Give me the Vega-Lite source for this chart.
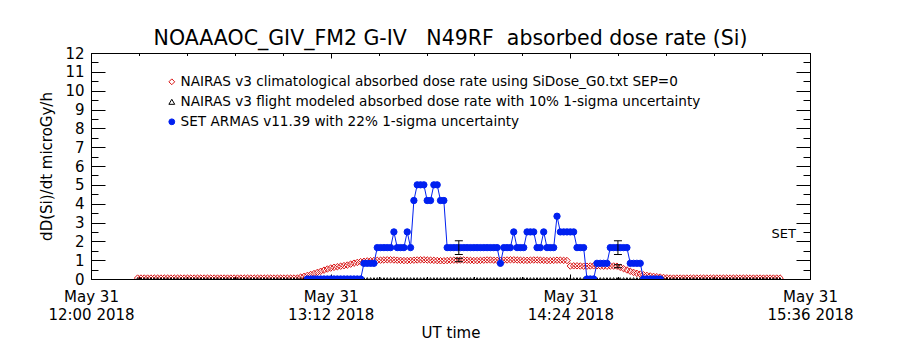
{
"$schema": "https://vega.github.io/schema/vega-lite/v6.json",
"width": 719, "height": 226,
"autosize": {"type": "none"},
"padding": {"left": 91, "top": 53, "right": 90, "bottom": 71},
"title": {"text": "NOAAAOC_GIV_FM2 G-IV \u00a0 N49RF \u00a0absorbed dose rate (Si)", "fontSize": 20.5, "font": "DejaVu Sans", "fontWeight": "normal", "anchor": "middle", "offset": -3, "color": "black"},
"datasets": {
"flight": [
{"time":"2018-05-31T12:14:00Z","clim":0.05,"flight":0},{"time":"2018-05-31T12:15:00Z","clim":0.05,"flight":0},{"time":"2018-05-31T12:16:00Z","clim":0.05,"flight":0},{"time":"2018-05-31T12:17:00Z","clim":0.05,"flight":0},{"time":"2018-05-31T12:18:00Z","clim":0.05,"flight":0},{"time":"2018-05-31T12:19:00Z","clim":0.05,"flight":0},
{"time":"2018-05-31T12:20:00Z","clim":0.05,"flight":0},{"time":"2018-05-31T12:21:00Z","clim":0.05,"flight":0},{"time":"2018-05-31T12:22:00Z","clim":0.05,"flight":0},{"time":"2018-05-31T12:23:00Z","clim":0.05,"flight":0},{"time":"2018-05-31T12:24:00Z","clim":0.05,"flight":0},{"time":"2018-05-31T12:25:00Z","clim":0.05,"flight":0},{"time":"2018-05-31T12:26:00Z","clim":0.05,"flight":0},{"time":"2018-05-31T12:27:00Z","clim":0.05,"flight":0},{"time":"2018-05-31T12:28:00Z","clim":0.05,"flight":0},{"time":"2018-05-31T12:29:00Z","clim":0.05,"flight":0},
{"time":"2018-05-31T12:30:00Z","clim":0.05,"flight":0},{"time":"2018-05-31T12:31:00Z","clim":0.05,"flight":0},{"time":"2018-05-31T12:32:00Z","clim":0.05,"flight":0},{"time":"2018-05-31T12:33:00Z","clim":0.05,"flight":0},{"time":"2018-05-31T12:34:00Z","clim":0.05,"flight":0},{"time":"2018-05-31T12:35:00Z","clim":0.05,"flight":0},{"time":"2018-05-31T12:36:00Z","clim":0.05,"flight":0},{"time":"2018-05-31T12:37:00Z","clim":0.05,"flight":0},{"time":"2018-05-31T12:38:00Z","clim":0.05,"flight":0},{"time":"2018-05-31T12:39:00Z","clim":0.05,"flight":0},
{"time":"2018-05-31T12:40:00Z","clim":0.05,"flight":0},{"time":"2018-05-31T12:41:00Z","clim":0.05,"flight":0},{"time":"2018-05-31T12:42:00Z","clim":0.05,"flight":0},{"time":"2018-05-31T12:43:00Z","clim":0.05,"flight":0},{"time":"2018-05-31T12:44:00Z","clim":0.05,"flight":0},{"time":"2018-05-31T12:45:00Z","clim":0.05,"flight":0},{"time":"2018-05-31T12:46:00Z","clim":0.05,"flight":0},{"time":"2018-05-31T12:47:00Z","clim":0.05,"flight":0},{"time":"2018-05-31T12:48:00Z","clim":0.05,"flight":0},{"time":"2018-05-31T12:49:00Z","clim":0.05,"flight":0},
{"time":"2018-05-31T12:50:00Z","clim":0.05,"flight":0},{"time":"2018-05-31T12:51:00Z","clim":0.05,"flight":0},{"time":"2018-05-31T12:52:00Z","clim":0.05,"flight":0},{"time":"2018-05-31T12:53:00Z","clim":0.05,"flight":0},{"time":"2018-05-31T12:54:00Z","clim":0.05,"flight":0},{"time":"2018-05-31T12:55:00Z","clim":0.05,"flight":0},{"time":"2018-05-31T12:56:00Z","clim":0.05,"flight":0},{"time":"2018-05-31T12:57:00Z","clim":0.05,"flight":0},{"time":"2018-05-31T12:58:00Z","clim":0.05,"flight":0},{"time":"2018-05-31T12:59:00Z","clim":0.05,"flight":0},
{"time":"2018-05-31T13:00:00Z","clim":0.05,"flight":0},{"time":"2018-05-31T13:01:00Z","clim":0.05,"flight":0},{"time":"2018-05-31T13:02:00Z","clim":0.05,"flight":0},{"time":"2018-05-31T13:03:00Z","clim":0.10,"flight":0},{"time":"2018-05-31T13:04:00Z","clim":0.14,"flight":0},
{"time":"2018-05-31T13:05:00Z","clim":0.19,"flight":0,"armas":0},{"time":"2018-05-31T13:06:00Z","clim":0.24,"flight":0,"armas":0},{"time":"2018-05-31T13:07:00Z","clim":0.29,"flight":0,"armas":0},{"time":"2018-05-31T13:08:00Z","clim":0.35,"flight":0,"armas":0},{"time":"2018-05-31T13:09:00Z","clim":0.41,"flight":0,"armas":0},
{"time":"2018-05-31T13:10:00Z","clim":0.47,"flight":0,"armas":0},{"time":"2018-05-31T13:11:00Z","clim":0.53,"flight":0,"armas":0},{"time":"2018-05-31T13:12:00Z","clim":0.58,"flight":0,"armas":0},{"time":"2018-05-31T13:13:00Z","clim":0.62,"flight":0,"armas":0},{"time":"2018-05-31T13:14:00Z","clim":0.65,"flight":0,"armas":0},
{"time":"2018-05-31T13:15:00Z","clim":0.68,"flight":0,"armas":0},{"time":"2018-05-31T13:16:00Z","clim":0.71,"flight":0,"armas":0},{"time":"2018-05-31T13:17:00Z","clim":0.74,"flight":0,"armas":0},{"time":"2018-05-31T13:18:00Z","clim":0.79,"flight":0,"armas":0},{"time":"2018-05-31T13:19:00Z","clim":0.84,"flight":0,"armas":0},
{"time":"2018-05-31T13:20:00Z","clim":0.88,"flight":0,"armas":0},{"time":"2018-05-31T13:21:00Z","clim":0.92,"flight":0,"armas":0},{"time":"2018-05-31T13:22:00Z","clim":0.94,"flight":0,"armas":0.833},{"time":"2018-05-31T13:23:00Z","clim":0.96,"flight":0,"armas":0.833},{"time":"2018-05-31T13:24:00Z","clim":0.97,"flight":0,"armas":0.833},
{"time":"2018-05-31T13:25:00Z","clim":0.98,"flight":0,"armas":0.833},{"time":"2018-05-31T13:26:00Z","clim":0.99,"flight":0,"armas":1.667},{"time":"2018-05-31T13:27:00Z","clim":1.00,"flight":0,"armas":1.667},{"time":"2018-05-31T13:28:00Z","clim":1.01,"flight":0,"armas":1.667},{"time":"2018-05-31T13:29:00Z","clim":1.02,"flight":0,"armas":1.667},
{"time":"2018-05-31T13:30:00Z","clim":1.02,"flight":0,"armas":1.667},{"time":"2018-05-31T13:31:00Z","clim":1.01,"flight":0,"armas":2.5},{"time":"2018-05-31T13:32:00Z","clim":1.00,"flight":0,"armas":1.667},{"time":"2018-05-31T13:33:00Z","clim":0.99,"flight":0,"armas":1.667},{"time":"2018-05-31T13:34:00Z","clim":0.98,"flight":0,"armas":1.667},
{"time":"2018-05-31T13:35:00Z","clim":0.98,"flight":0,"armas":2.5},{"time":"2018-05-31T13:36:00Z","clim":0.99,"flight":0,"armas":1.667},{"time":"2018-05-31T13:37:00Z","clim":1.00,"flight":0,"armas":4.167},{"time":"2018-05-31T13:38:00Z","clim":1.01,"flight":0,"armas":5.0},{"time":"2018-05-31T13:39:00Z","clim":1.02,"flight":0,"armas":5.0},
{"time":"2018-05-31T13:40:00Z","clim":1.02,"flight":0,"armas":5.0},{"time":"2018-05-31T13:41:00Z","clim":1.01,"flight":0,"armas":4.167},{"time":"2018-05-31T13:42:00Z","clim":1.00,"flight":0,"armas":4.167},{"time":"2018-05-31T13:43:00Z","clim":0.99,"flight":0,"armas":5.0},{"time":"2018-05-31T13:44:00Z","clim":0.98,"flight":0,"armas":5.0},
{"time":"2018-05-31T13:45:00Z","clim":0.97,"flight":0,"armas":4.167},{"time":"2018-05-31T13:46:00Z","clim":0.97,"flight":0,"armas":4.167},{"time":"2018-05-31T13:47:00Z","clim":0.98,"flight":0,"armas":1.667},{"time":"2018-05-31T13:48:00Z","clim":0.99,"flight":0,"armas":1.667},{"time":"2018-05-31T13:49:00Z","clim":1.00,"flight":0,"armas":1.667},
{"time":"2018-05-31T13:50:00Z","clim":1.00,"flight":0,"armas":1.667},{"time":"2018-05-31T13:51:00Z","clim":1.01,"flight":0,"armas":1.667},{"time":"2018-05-31T13:52:00Z","clim":1.01,"flight":0,"armas":1.667},{"time":"2018-05-31T13:53:00Z","clim":1.00,"flight":0,"armas":1.667},{"time":"2018-05-31T13:54:00Z","clim":0.99,"flight":0,"armas":1.667},
{"time":"2018-05-31T13:55:00Z","clim":0.98,"flight":0,"armas":1.667},{"time":"2018-05-31T13:56:00Z","clim":0.98,"flight":0,"armas":1.667},{"time":"2018-05-31T13:57:00Z","clim":0.99,"flight":0,"armas":1.667},{"time":"2018-05-31T13:58:00Z","clim":1.00,"flight":0,"armas":1.667},{"time":"2018-05-31T13:59:00Z","clim":1.01,"flight":0,"armas":1.667},
{"time":"2018-05-31T14:00:00Z","clim":1.01,"flight":0,"armas":1.667},{"time":"2018-05-31T14:01:00Z","clim":1.00,"flight":0,"armas":1.667},{"time":"2018-05-31T14:02:00Z","clim":0.99,"flight":0,"armas":1.667},{"time":"2018-05-31T14:03:00Z","clim":0.99,"flight":0,"armas":0.833},{"time":"2018-05-31T14:04:00Z","clim":1.00,"flight":0,"armas":1.667},
{"time":"2018-05-31T14:05:00Z","clim":1.01,"flight":0,"armas":1.667},{"time":"2018-05-31T14:06:00Z","clim":1.02,"flight":0,"armas":1.667},{"time":"2018-05-31T14:07:00Z","clim":1.02,"flight":0,"armas":2.5},{"time":"2018-05-31T14:08:00Z","clim":1.01,"flight":0,"armas":1.667},{"time":"2018-05-31T14:09:00Z","clim":1.00,"flight":0,"armas":1.667},
{"time":"2018-05-31T14:10:00Z","clim":0.99,"flight":0,"armas":1.667},{"time":"2018-05-31T14:11:00Z","clim":0.99,"flight":0,"armas":2.5},{"time":"2018-05-31T14:12:00Z","clim":1.00,"flight":0,"armas":2.5},{"time":"2018-05-31T14:13:00Z","clim":1.01,"flight":0,"armas":2.5},{"time":"2018-05-31T14:14:00Z","clim":1.01,"flight":0,"armas":1.667},
{"time":"2018-05-31T14:15:00Z","clim":1.00,"flight":0,"armas":1.667},{"time":"2018-05-31T14:16:00Z","clim":0.99,"flight":0,"armas":2.5},{"time":"2018-05-31T14:17:00Z","clim":0.98,"flight":0,"armas":1.667},{"time":"2018-05-31T14:18:00Z","clim":0.98,"flight":0,"armas":1.667},{"time":"2018-05-31T14:19:00Z","clim":0.99,"flight":0,"armas":1.667},
{"time":"2018-05-31T14:20:00Z","clim":1.00,"flight":0,"armas":3.333},{"time":"2018-05-31T14:21:00Z","clim":1.00,"flight":0,"armas":2.5},{"time":"2018-05-31T14:22:00Z","clim":0.99,"flight":0,"armas":2.5},{"time":"2018-05-31T14:23:00Z","clim":0.98,"flight":0,"armas":2.5},{"time":"2018-05-31T14:24:00Z","clim":0.69,"flight":0,"armas":2.5},
{"time":"2018-05-31T14:25:00Z","clim":0.70,"flight":0,"armas":2.5},{"time":"2018-05-31T14:26:00Z","clim":0.70,"flight":0,"armas":1.667},{"time":"2018-05-31T14:27:00Z","clim":0.69,"flight":0,"armas":1.667},{"time":"2018-05-31T14:28:00Z","clim":0.68,"flight":0,"armas":1.667},{"time":"2018-05-31T14:29:00Z","clim":0.68,"flight":0,"armas":0},
{"time":"2018-05-31T14:30:00Z","clim":0.69,"flight":0,"armas":0},{"time":"2018-05-31T14:31:00Z","clim":0.70,"flight":0,"armas":0},{"time":"2018-05-31T14:32:00Z","clim":0.70,"flight":0,"armas":0.833},{"time":"2018-05-31T14:33:00Z","clim":0.69,"flight":0,"armas":0.833},{"time":"2018-05-31T14:34:00Z","clim":0.68,"flight":0,"armas":0.833},
{"time":"2018-05-31T14:35:00Z","clim":0.68,"flight":0,"armas":0.833},{"time":"2018-05-31T14:36:00Z","clim":0.69,"flight":0,"armas":1.667},{"time":"2018-05-31T14:37:00Z","clim":0.69,"flight":0,"armas":1.667},{"time":"2018-05-31T14:38:00Z","clim":0.68,"flight":0,"armas":1.667},{"time":"2018-05-31T14:39:00Z","clim":0.62,"flight":0,"armas":1.667},
{"time":"2018-05-31T14:40:00Z","clim":0.55,"flight":0,"armas":1.667},{"time":"2018-05-31T14:41:00Z","clim":0.48,"flight":0,"armas":1.667},{"time":"2018-05-31T14:42:00Z","clim":0.41,"flight":0,"armas":0.833},{"time":"2018-05-31T14:43:00Z","clim":0.35,"flight":0,"armas":0.833},{"time":"2018-05-31T14:44:00Z","clim":0.30,"flight":0,"armas":0.833},
{"time":"2018-05-31T14:45:00Z","clim":0.26,"flight":0,"armas":0.833},{"time":"2018-05-31T14:46:00Z","clim":0.22,"flight":0,"armas":0},{"time":"2018-05-31T14:47:00Z","clim":0.19,"flight":0,"armas":0},{"time":"2018-05-31T14:48:00Z","clim":0.16,"flight":0,"armas":0},{"time":"2018-05-31T14:49:00Z","clim":0.14,"flight":0,"armas":0},
{"time":"2018-05-31T14:50:00Z","clim":0.12,"flight":0,"armas":0},{"time":"2018-05-31T14:51:00Z","clim":0.10,"flight":0,"armas":0},{"time":"2018-05-31T14:52:00Z","clim":0.08,"flight":0},{"time":"2018-05-31T14:53:00Z","clim":0.06,"flight":0},{"time":"2018-05-31T14:54:00Z","clim":0.05,"flight":0},
{"time":"2018-05-31T14:55:00Z","clim":0.05,"flight":0},{"time":"2018-05-31T14:56:00Z","clim":0.05,"flight":0},{"time":"2018-05-31T14:57:00Z","clim":0.05,"flight":0},{"time":"2018-05-31T14:58:00Z","clim":0.05,"flight":0},{"time":"2018-05-31T14:59:00Z","clim":0.05,"flight":0},
{"time":"2018-05-31T15:00:00Z","clim":0.05,"flight":0},{"time":"2018-05-31T15:01:00Z","clim":0.05,"flight":0},{"time":"2018-05-31T15:02:00Z","clim":0.05,"flight":0},{"time":"2018-05-31T15:03:00Z","clim":0.05,"flight":0},{"time":"2018-05-31T15:04:00Z","clim":0.05,"flight":0},{"time":"2018-05-31T15:05:00Z","clim":0.05,"flight":0},{"time":"2018-05-31T15:06:00Z","clim":0.05,"flight":0},{"time":"2018-05-31T15:07:00Z","clim":0.05,"flight":0},{"time":"2018-05-31T15:08:00Z","clim":0.05,"flight":0},{"time":"2018-05-31T15:09:00Z","clim":0.05,"flight":0},
{"time":"2018-05-31T15:10:00Z","clim":0.05,"flight":0},{"time":"2018-05-31T15:11:00Z","clim":0.05,"flight":0},{"time":"2018-05-31T15:12:00Z","clim":0.05,"flight":0},{"time":"2018-05-31T15:13:00Z","clim":0.05,"flight":0},{"time":"2018-05-31T15:14:00Z","clim":0.05,"flight":0},{"time":"2018-05-31T15:15:00Z","clim":0.05,"flight":0},{"time":"2018-05-31T15:16:00Z","clim":0.05,"flight":0},{"time":"2018-05-31T15:17:00Z","clim":0.05,"flight":0},{"time":"2018-05-31T15:18:00Z","clim":0.05,"flight":0},{"time":"2018-05-31T15:19:00Z","clim":0.05,"flight":0},
{"time":"2018-05-31T15:20:00Z","clim":0.05,"flight":0},{"time":"2018-05-31T15:21:00Z","clim":0.05,"flight":0},{"time":"2018-05-31T15:22:00Z","clim":0.05,"flight":0},{"time":"2018-05-31T15:23:00Z","clim":0.05,"flight":0},{"time":"2018-05-31T15:24:00Z","clim":0.05,"flight":0},{"time":"2018-05-31T15:25:00Z","clim":0.05,"flight":0},{"time":"2018-05-31T15:26:00Z","clim":0.05,"flight":0},{"time":"2018-05-31T15:27:00Z","clim":0.05,"flight":0}
],
"errs": [
{"time":"2018-05-31T13:50:30Z","lo":1.30,"hi":2.03},
{"time":"2018-05-31T13:50:30Z","lo":0.92,"hi":1.10},
{"time":"2018-05-31T14:38:18Z","lo":1.30,"hi":2.03},
{"time":"2018-05-31T14:38:18Z","lo":0.60,"hi":0.76}
],
"notes": [
{"time":"2018-05-31T15:31:48Z","dose":2.0,"label":"SET"}
]
},
"layer": [
{
"data": {"name": "flight"},
"mark": {"type": "point", "size": 42, "strokeWidth": 1, "opacity": 1, "clip": true},
"encoding": {
"x": {"field": "time", "type": "temporal",
 "scale": {"domain": [{"year":2018,"month":5,"date":31,"hours":12,"minutes":0,"utc":true},{"year":2018,"month":5,"date":31,"hours":15,"minutes":36,"utc":true}], "nice": false},
 "axis": {"orient": "bottom", "values": [{"year":2018,"month":5,"date":31,"hours":12,"minutes":0,"utc":true},{"year":2018,"month":5,"date":31,"hours":13,"minutes":12,"utc":true},{"year":2018,"month":5,"date":31,"hours":14,"minutes":24,"utc":true},{"year":2018,"month":5,"date":31,"hours":15,"minutes":36,"utc":true}],
  "tickSize": -5, "labelExpr": "['May 31', utcFormat(datum.value, '%H:%M %Y')]", "labelPadding": 15, "labelLineHeight": 18, "labelFlush": false, "labelOverlap": false, "title": "UT time", "titlePadding": 3}},
"y": {"field": "clim", "type": "quantitative", "scale": {"domain": [0, 12], "nice": false, "zero": false},
 "axis": {"orient": "left", "values": [0,1,2,3,4,5,6,7,8,9,10,11,12], "tickSize": -14, "labelPadding": 21, "title": "dD(Si)/dt microGy/h", "titlePadding": 10}},
"stroke": {"datum": "NAIRAS v3 climatological absorbed dose rate using SiDose_G0.txt SEP=0",
 "scale": {"domain": ["NAIRAS v3 climatological absorbed dose rate using SiDose_G0.txt SEP=0", "NAIRAS v3 flight modeled absorbed dose rate with 10% 1-sigma uncertainty", "SET ARMAS v11.39 with 22% 1-sigma uncertainty"], "range": ["#d81010", "black", "#0020f0"]},
 "legend": {"orient": "none", "legendX": 74, "legendY": 22, "title": null, "labelFontSize": 13.6, "labelFont": "DejaVu Sans", "labelColor": "black", "symbolSize": 34, "symbolStrokeWidth": 1, "rowPadding": 5, "labelOffset": 2, "labelLimit": 0, "padding": 0}},
"fill": {"datum": "NAIRAS v3 climatological absorbed dose rate using SiDose_G0.txt SEP=0",
 "scale": {"domain": ["NAIRAS v3 climatological absorbed dose rate using SiDose_G0.txt SEP=0", "NAIRAS v3 flight modeled absorbed dose rate with 10% 1-sigma uncertainty", "SET ARMAS v11.39 with 22% 1-sigma uncertainty"], "range": ["transparent", "transparent", "#0020f0"]}},
"shape": {"datum": "NAIRAS v3 climatological absorbed dose rate using SiDose_G0.txt SEP=0",
 "scale": {"domain": ["NAIRAS v3 climatological absorbed dose rate using SiDose_G0.txt SEP=0", "NAIRAS v3 flight modeled absorbed dose rate with 10% 1-sigma uncertainty", "SET ARMAS v11.39 with 22% 1-sigma uncertainty"], "range": ["diamond", "triangle-up", "circle"]}}
}
},
{
"data": {"name": "flight"},
"mark": {"type": "point", "size": 10, "strokeWidth": 1, "opacity": 1, "clip": true},
"encoding": {
"x": {"field": "time", "type": "temporal",
 "axis": {"orient": "bottom", "values": [{"year":2018,"month":5,"date":31,"hours":12,"minutes":0,"utc":true},{"year":2018,"month":5,"date":31,"hours":12,"minutes":14,"seconds":24,"utc":true},{"year":2018,"month":5,"date":31,"hours":12,"minutes":28,"seconds":48,"utc":true},{"year":2018,"month":5,"date":31,"hours":12,"minutes":43,"seconds":12,"utc":true},{"year":2018,"month":5,"date":31,"hours":12,"minutes":57,"seconds":36,"utc":true},{"year":2018,"month":5,"date":31,"hours":13,"minutes":12,"utc":true},{"year":2018,"month":5,"date":31,"hours":13,"minutes":26,"seconds":24,"utc":true},{"year":2018,"month":5,"date":31,"hours":13,"minutes":40,"seconds":48,"utc":true},{"year":2018,"month":5,"date":31,"hours":13,"minutes":55,"seconds":12,"utc":true},{"year":2018,"month":5,"date":31,"hours":14,"minutes":9,"seconds":36,"utc":true},{"year":2018,"month":5,"date":31,"hours":14,"minutes":24,"utc":true},{"year":2018,"month":5,"date":31,"hours":14,"minutes":38,"seconds":24,"utc":true},{"year":2018,"month":5,"date":31,"hours":14,"minutes":52,"seconds":48,"utc":true},{"year":2018,"month":5,"date":31,"hours":15,"minutes":7,"seconds":12,"utc":true},{"year":2018,"month":5,"date":31,"hours":15,"minutes":21,"seconds":36,"utc":true},{"year":2018,"month":5,"date":31,"hours":15,"minutes":36,"utc":true}],
  "tickSize": -2.5, "labels": false, "title": null}},
"y": {"field": "flight", "type": "quantitative",
 "axis": {"orient": "left", "values": [0,0.5,1,1.5,2,2.5,3,3.5,4,4.5,5,5.5,6,6.5,7,7.5,8,8.5,9,9.5,10,10.5,11,11.5,12], "tickSize": -7, "labels": false, "title": null}},
"stroke": {"datum": "NAIRAS v3 flight modeled absorbed dose rate with 10% 1-sigma uncertainty"},
"fill": {"datum": "NAIRAS v3 flight modeled absorbed dose rate with 10% 1-sigma uncertainty"},
"shape": {"datum": "NAIRAS v3 flight modeled absorbed dose rate with 10% 1-sigma uncertainty"}
}
},
{
"data": {"name": "flight"},
"transform": [{"filter": "isValid(datum.armas)"}],
"mark": {"type": "line", "color": "#0020f0", "strokeWidth": 1, "clip": true},
"encoding": {
"x": {"field": "time", "type": "temporal",
 "axis": {"orient": "top", "values": [{"year":2018,"month":5,"date":31,"hours":12,"minutes":0,"utc":true},{"year":2018,"month":5,"date":31,"hours":13,"minutes":12,"utc":true},{"year":2018,"month":5,"date":31,"hours":14,"minutes":24,"utc":true},{"year":2018,"month":5,"date":31,"hours":15,"minutes":36,"utc":true}], "tickSize": -5, "labels": false, "title": null}},
"y": {"field": "armas", "type": "quantitative",
 "axis": {"orient": "right", "values": [0,1,2,3,4,5,6,7,8,9,10,11,12], "tickSize": -14, "labels": false, "title": null}}
}
},
{
"data": {"name": "flight"},
"transform": [{"filter": "isValid(datum.armas)"}],
"mark": {"type": "point", "size": 40, "strokeWidth": 1, "opacity": 1, "clip": true},
"encoding": {
"x": {"field": "time", "type": "temporal",
 "axis": {"orient": "top", "values": [{"year":2018,"month":5,"date":31,"hours":12,"minutes":0,"utc":true},{"year":2018,"month":5,"date":31,"hours":12,"minutes":14,"seconds":24,"utc":true},{"year":2018,"month":5,"date":31,"hours":12,"minutes":28,"seconds":48,"utc":true},{"year":2018,"month":5,"date":31,"hours":12,"minutes":43,"seconds":12,"utc":true},{"year":2018,"month":5,"date":31,"hours":12,"minutes":57,"seconds":36,"utc":true},{"year":2018,"month":5,"date":31,"hours":13,"minutes":12,"utc":true},{"year":2018,"month":5,"date":31,"hours":13,"minutes":26,"seconds":24,"utc":true},{"year":2018,"month":5,"date":31,"hours":13,"minutes":40,"seconds":48,"utc":true},{"year":2018,"month":5,"date":31,"hours":13,"minutes":55,"seconds":12,"utc":true},{"year":2018,"month":5,"date":31,"hours":14,"minutes":9,"seconds":36,"utc":true},{"year":2018,"month":5,"date":31,"hours":14,"minutes":24,"utc":true},{"year":2018,"month":5,"date":31,"hours":14,"minutes":38,"seconds":24,"utc":true},{"year":2018,"month":5,"date":31,"hours":14,"minutes":52,"seconds":48,"utc":true},{"year":2018,"month":5,"date":31,"hours":15,"minutes":7,"seconds":12,"utc":true},{"year":2018,"month":5,"date":31,"hours":15,"minutes":21,"seconds":36,"utc":true},{"year":2018,"month":5,"date":31,"hours":15,"minutes":36,"utc":true}],
  "tickSize": -2.5, "labels": false, "title": null}},
"y": {"field": "armas", "type": "quantitative",
 "axis": {"orient": "right", "values": [0,0.5,1,1.5,2,2.5,3,3.5,4,4.5,5,5.5,6,6.5,7,7.5,8,8.5,9,9.5,10,10.5,11,11.5,12], "tickSize": -7, "labels": false, "title": null}},
"stroke": {"datum": "SET ARMAS v11.39 with 22% 1-sigma uncertainty"},
"fill": {"datum": "SET ARMAS v11.39 with 22% 1-sigma uncertainty"},
"shape": {"datum": "SET ARMAS v11.39 with 22% 1-sigma uncertainty"}
}
},
{
"data": {"name": "errs"},
"mark": {"type": "rule", "color": "black", "strokeWidth": 1},
"encoding": {
"x": {"field": "time", "type": "temporal", "axis": null},
"y": {"field": "lo", "type": "quantitative", "axis": null},
"y2": {"field": "hi"}
}
},
{
"data": {"name": "errs"},
"mark": {"type": "tick", "orient": "horizontal", "color": "black", "size": 8, "thickness": 1, "opacity": 1},
"encoding": {
"x": {"field": "time", "type": "temporal", "axis": null},
"y": {"field": "lo", "type": "quantitative", "axis": null}
}
},
{
"data": {"name": "errs"},
"mark": {"type": "tick", "orient": "horizontal", "color": "black", "size": 8, "thickness": 1, "opacity": 1},
"encoding": {
"x": {"field": "time", "type": "temporal", "axis": null},
"y": {"field": "hi", "type": "quantitative", "axis": null}
}
},
{
"data": {"name": "notes"},
"mark": {"type": "text", "align": "right", "baseline": "bottom", "fontSize": 13, "font": "DejaVu Sans", "color": "black"},
"encoding": {
"x": {"field": "time", "type": "temporal", "axis": null},
"y": {"field": "dose", "type": "quantitative", "axis": null},
"text": {"field": "label"}
}
}
],
"resolve": {"axis": {"x": "independent", "y": "independent"}},
"config": {
"view": {"stroke": "black", "strokeWidth": 1},
"axis": {"domain": false, "grid": false, "tickColor": "black", "tickWidth": 1, "labelColor": "black", "titleColor": "black", "labelFont": "DejaVu Sans", "titleFont": "DejaVu Sans", "titleFontWeight": "normal", "labelFontSize": 15, "titleFontSize": 15}
}
}
